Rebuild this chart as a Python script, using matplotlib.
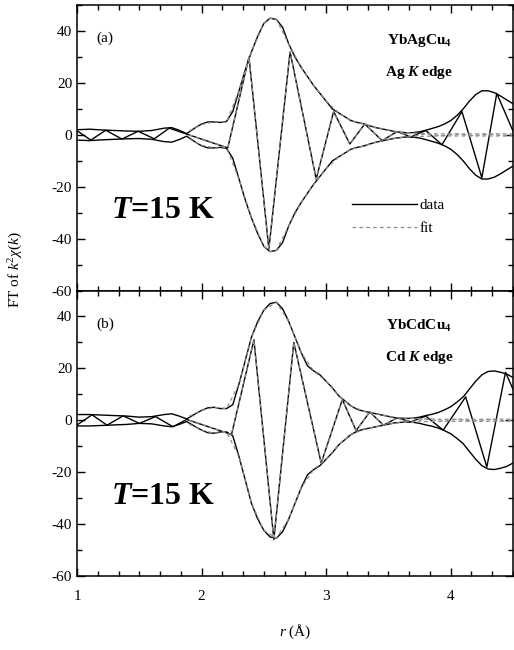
import matplotlib
matplotlib.use('Agg')
import matplotlib.pyplot as plt
from matplotlib.ticker import MultipleLocator
import numpy as np

plt.rcParams['font.family'] = ['Liberation Serif', 'DejaVu Serif']
plt.rcParams['mathtext.fontset'] = 'custom'
plt.rcParams['mathtext.rm'] = 'Liberation Serif'
plt.rcParams['mathtext.it'] = 'Liberation Serif:italic'
plt.rcParams['mathtext.bf'] = 'Liberation Serif:bold'
plt.rcParams['mathtext.bfit'] = 'Liberation Serif:italic:bold'
plt.rcParams['axes.unicode_minus'] = False

# shared r grid for the |FT| envelopes
r_env = [1.0, 1.1, 1.2, 1.3, 1.4, 1.5, 1.6, 1.7, 1.76, 1.82, 1.88, 1.95, 2.0, 2.05,
         2.1, 2.15, 2.2, 2.25, 2.3, 2.35, 2.4, 2.45, 2.5, 2.55, 2.6, 2.65, 2.7, 2.75,
         2.8, 2.85, 2.9, 2.95, 3.0, 3.05, 3.1, 3.15, 3.2, 3.25, 3.3, 3.35, 3.4, 3.45,
         3.5, 3.55, 3.6, 3.65, 3.7, 3.75, 3.8, 3.85, 3.9, 3.95, 4.0, 4.05, 4.1, 4.15,
         4.2, 4.25, 4.3, 4.35, 4.4, 4.45, 4.5]

# (a) YbAgCu4, Ag K edge
mag_a = [2.0, 2.2, 1.9, 1.7, 1.5, 1.4, 1.7, 2.6, 2.8, 1.8, 0.5, 2.8, 4.2, 5.0,
         5.0, 4.8, 5.2, 9.0, 17, 25, 32, 38, 43, 45, 44.5, 41.5, 35, 30,
         26, 22.5, 19, 16, 13, 10, 8.5, 7.0, 5.5, 4.8, 4.3, 3.5, 2.8, 2.3,
         1.8, 1.3, 1.0, 0.8, 0.9, 1.2, 1.8, 2.5, 3.2, 4.2, 5.5, 7.5, 10, 13,
         15.5, 17, 17, 16.3, 15, 13.5, 12]
r_re_a = [1.0, 1.11, 1.23, 1.36, 1.49, 1.62, 1.74, 1.88, 2.21, 2.38, 2.54, 2.71,
          2.92, 3.06, 3.19, 3.31, 3.45, 3.57, 3.68, 3.80, 3.93, 4.09, 4.25, 4.37, 4.5]
re_a = [1.6, -2.0, 1.8, -1.6, 1.4, -1.5, 2.6, 0.3, -5.0, 30, -44, 32,
        -17, 9, -3.5, 4.2, -2.2, 1.3, -0.8, 1.7, -3.8, 9, -16.5, 16, 1.5]
r_fit_a = [1.9, 2.0, 2.1, 2.2, 2.3, 2.4, 2.5, 2.55, 2.6, 2.7, 2.8, 2.9, 3.0, 3.1,
           3.2, 3.3, 3.4, 3.5, 3.6, 3.7, 3.8, 3.9, 4.0, 4.1, 4.2, 4.3, 4.4, 4.5]
fit_mag_a = [1.5, 4.0, 5.0, 5.0, 17, 32, 43, 45, 44.5, 35, 26, 19, 13, 8.5,
             5.5, 4.3, 2.8, 1.8, 1.0, 0.7, 0.5, 0.4, 0.4, 0.4, 0.4, 0.4, 0.4, 0.4]
r_fit_re_a = [1.9, 2.21, 2.38, 2.54, 2.71, 2.92, 3.06, 3.19, 3.31, 3.45, 3.57,
              3.68, 3.8, 3.92, 4.05, 4.18, 4.31, 4.44, 4.5]
fit_re_a = [0.0, -5, 30, -44, 32, -17, 9, -3.5, 4.2, -2.2, 1.2,
            -0.6, 0.4, -0.3, 0.3, -0.3, 0.3, -0.3, 0.0]

# (b) YbCdCu4, Cd K edge
mag_b = [2.2, 2.2, 2.0, 1.8, 1.6, 1.2, 1.4, 2.2, 2.5, 1.6, 0.5, 2.5, 3.8, 4.8,
         5.0, 4.5, 4.5, 6.0, 14, 23, 32, 38, 42.5, 45, 45.5, 43, 38, 32,
         26, 21, 19, 17.5, 15, 12.5, 9.5, 7.5, 5.5, 4.2, 3.5, 3.0, 2.5, 2.0,
         1.5, 1.0, 0.8, 0.7, 0.8, 1.2, 1.8, 2.3, 3.0, 4.0, 5.2, 7.0, 9.0, 12,
         15, 17.5, 18.8, 19, 18.5, 17.8, 16.5]
r_re_b = [1.0, 1.12, 1.24, 1.37, 1.5, 1.63, 1.77, 1.88, 2.24, 2.42, 2.58, 2.74,
          2.96, 3.13, 3.24, 3.35, 3.46, 3.57, 3.68, 3.80, 3.94, 4.12, 4.29, 4.44, 4.5]
re_b = [-1.8, 2.1, -1.9, 1.7, -1.2, 1.4, -2.5, 0.3, -5.5, 31, -46, 30,
        -16.5, 8, -4, 3.2, -1.9, 0.9, -0.6, 1.6, -3.8, 9, -18, 18.5, 12]
r_fit_b = [1.9, 2.0, 2.1, 2.2, 2.3, 2.4, 2.5, 2.6, 2.7, 2.8, 2.9, 3.0, 3.1,
           3.2, 3.3, 3.4, 3.5, 3.6, 3.7, 3.8, 3.9, 4.0, 4.1, 4.2, 4.3, 4.4, 4.5]
fit_mag_b = [1.5, 3.8, 5.0, 4.5, 14, 32, 42.5, 45.5, 38, 26, 19, 15, 9.5,
             5.5, 3.5, 2.5, 1.5, 0.8, 0.7, 0.5, 0.4, 0.4, 0.4, 0.4, 0.4, 0.4, 0.4]
r_fit_re_b = [1.9, 2.24, 2.42, 2.58, 2.74, 2.96, 3.13, 3.24, 3.35, 3.46, 3.57,
              3.68, 3.8, 3.92, 4.05, 4.18, 4.31, 4.44, 4.5]
fit_re_b = [0.0, -5.5, 31, -46, 30, -16.5, 8, -4, 3.2, -1.9, 0.9,
            -0.6, 0.4, -0.3, 0.3, -0.3, 0.3, -0.3, 0.0]

panels = [
    ('(a)', 'YbAgCu$_\\mathbf{4}$', 'Ag $\\mathbfit{K}$ edge',
     mag_a, r_re_a, re_a, r_fit_a, fit_mag_a, r_fit_re_a, fit_re_a),
    ('(b)', 'YbCdCu$_\\mathbf{4}$', 'Cd $\\mathbfit{K}$ edge',
     mag_b, r_re_b, re_b, r_fit_b, fit_mag_b, r_fit_re_b, fit_re_b),
]

fig = plt.figure(figsize=(5.14, 6.5), dpi=100)
ax_a = fig.add_axes([0.150, 0.553, 0.848, 0.439])
ax_b = fig.add_axes([0.150, 0.114, 0.848, 0.439])

for ax, (tag, name, edge, mag, r_re, re, r_fit, fmag, r_fre, fre) in zip([ax_a, ax_b], panels):
    mag = np.array(mag)
    fmag = np.array(fmag)
    ax.plot(r_env, mag, color='black', lw=1.0, label='data')
    ax.plot(r_env, -mag, color='black', lw=1.0)
    ax.plot(r_re, re, color='black', lw=1.0)
    ax.plot(r_fit, fmag, color='0.55', lw=0.9, ls=(0, (3, 2.5)), label='fit')
    ax.plot(r_fit, -fmag, color='0.55', lw=0.9, ls=(0, (3, 2.5)))
    ax.plot(r_fre, fre, color='0.55', lw=0.9, ls=(0, (3, 2.5)))

    ax.set_xlim(1, 4.5)
    ax.set_ylim(-60, 50)
    ax.xaxis.set_major_locator(MultipleLocator(1))
    ax.xaxis.set_minor_locator(MultipleLocator(1 / 6))
    ax.yaxis.set_major_locator(MultipleLocator(20))
    ax.yaxis.set_minor_locator(MultipleLocator(10))
    ax.tick_params(which='both', direction='in', top=True, right=True, labelsize=11)
    ax.tick_params(which='major', length=6, width=1.0)
    ax.tick_params(which='minor', length=3.5, width=1.0)
    ax.tick_params(axis='x', pad=10)
    for s in ax.spines.values():
        s.set_linewidth(1.1)

    ax.text(0.045, 0.87, tag, transform=ax.transAxes, fontsize=11)
    ax.text(0.785, 0.875, name, transform=ax.transAxes, fontsize=11,
            fontweight='bold', ha='center', va='center')
    ax.text(0.785, 0.765, edge, transform=ax.transAxes, fontsize=11,
            fontweight='bold', ha='center', va='center')
    ax.text(0.197, 0.28, '$\\mathbfit{T}$=15 K', transform=ax.transAxes,
            fontsize=23, fontweight='bold', ha='center', va='center')

ax_a.tick_params(labelbottom=False)
ax_a.legend(loc='upper left', bbox_to_anchor=(0.6, 0.37), frameon=False,
            handlelength=4.2, labelspacing=0.6, handletextpad=0.2, fontsize=11)

fig.text(0.03, 0.585, 'FT of $k^2\\chi(k)$', rotation=90, ha='center',
         va='center', fontsize=11)
ax_b.set_xlabel('$r$ (Å)', fontsize=11, labelpad=14)

fig.savefig('out.png', dpi=100)
